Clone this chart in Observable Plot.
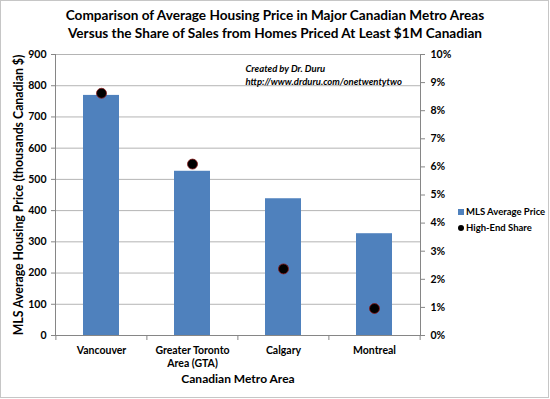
<!DOCTYPE html>
<html>
<head>
<meta charset="utf-8">
<script src="https://cdn.jsdelivr.net/npm/d3@7"></script>
<script src="https://cdn.jsdelivr.net/npm/@observablehq/plot@0.6"></script>
<style>
  html, body { margin: 0; padding: 0; background: #fff; }
  #wrap { position: relative; width: 550px; height: 399px; font-family: Lato, "Open Sans", sans-serif; overflow: hidden; }
  #border { position: absolute; left: 0; top: 0; width: 549px; height: 398px; box-sizing: border-box; border: 1px solid #c6c6c6; pointer-events: none; }
  #title { position: absolute; left: 0; top: 6px; width: 550px; text-align: center; font-weight: bold; font-size: 13.6px; line-height: 18px; color: #000; }
  #chart { position: absolute; left: 0; top: 0; }
  .leg { position: absolute; left: 458px; font-weight: bold; font-size: 9.5px; color: #000; white-space: nowrap; }
  .leg .sw { display: inline-block; width: 6px; height: 6px; background: #4F81BD; margin-right: 2px; vertical-align: 0px; }
  .leg .dt { display: inline-block; width: 6px; height: 6px; background: #000; border-radius: 50%; margin-right: 2px; vertical-align: 0px; }
</style>
</head>
<body>
<div id="wrap">
  <div id="chart"></div>
  <div id="title">Comparison of Average Housing Price in Major Canadian Metro Areas<br>Versus the Share of Sales from Homes Priced At Least $1M Canadian</div>
  <div class="leg" style="top:206px"><span class="sw"></span>MLS Average Price</div>
  <div class="leg" style="top:222px"><span class="dt"></span>High-End Share</div>
  <div id="border"></div>
</div>
<script>
const categories = ["Vancouver", "Greater Toronto Area (GTA)", "Calgary", "Montreal"];
const avgPrice = [769, 526, 438, 326];          // thousands CAD
const highEndShare = [8.62, 6.10, 2.37, 0.96];  // percent
const leftTicks = [0, 100, 200, 300, 400, 500, 600, 700, 800, 900];
const rightTicks = [0, 1, 2, 3, 4, 5, 6, 7, 8, 9, 10];
const xLabels = {"Greater Toronto Area (GTA)": "Greater Toronto\nArea (GTA)"};

const data = categories.map((c, i) => ({city: c, price: avgPrice[i], share: highEndShare[i]}));
const pctToY = p => p * 90; // 10% maps to 900

const W = 550, H = 399, mL = 55, mR = 130, mT = 54, mB = 64;
const plotH = H - mT - mB;
const step = (W - mL - mR) / categories.length;
const axisGray = "#868686";

const chart = Plot.plot({
  width: W, height: H,
  marginLeft: mL, marginRight: mR, marginTop: mT, marginBottom: mB,
  style: {fontFamily: "Lato, 'Open Sans', sans-serif", color: "#000", background: "transparent", overflow: "visible"},
  x: {domain: categories, paddingInner: 0.6, paddingOuter: 0.3, label: null},
  y: {domain: [0, 900], label: null},
  marks: [
    Plot.gridY(leftTicks, {stroke: "#b4b4b4", strokeOpacity: 1}),
    Plot.barY(data, {x: "city", y: "price", fill: "#4F81BD"}),
    Plot.ruleY([0], {stroke: axisGray}),
    Plot.frame({anchor: "left", stroke: axisGray}),
    Plot.frame({anchor: "right", stroke: axisGray}),
    Plot.ruleX(categories, {x: d => d, dx: -step / 2, insetTop: plotH, insetBottom: -5, stroke: axisGray}),
    Plot.ruleX([categories[categories.length - 1]], {x: d => d, dx: step / 2, insetTop: plotH, insetBottom: -5, stroke: axisGray}),
    Plot.axisY({ticks: leftTicks, anchor: "left", tickSize: 4, tickPadding: 5, stroke: axisGray, fill: "#000", fontWeight: "bold", fontSize: 10.5, label: null}),
    Plot.axisY(rightTicks.map(pctToY), {anchor: "right", tickSize: 4, tickPadding: 6, stroke: axisGray, fill: "#000", fontWeight: "bold", fontSize: 10.5, label: null, tickFormat: d => Math.round(d / 90) + "%"}),
    Plot.axisX({tickSize: 0, tickPadding: 9, fill: "#000", fontWeight: "bold", fontSize: 10.5, label: null, lineHeight: 1.25, tickFormat: d => xLabels[d] || d}),
    Plot.dot(data, {x: "city", y: d => pctToY(d.share), r: 5, fill: "#000", stroke: "#8b1a1a", strokeWidth: 0.8}),
    Plot.text(["Canadian Metro Area"], {frameAnchor: "bottom", dy: 47, fontWeight: "bold", fontSize: 12, fill: "#000"}),
    Plot.text(["MLS Average Housing Price (thousands Canadian $)"], {frameAnchor: "left", dx: -36, rotate: -90, textAnchor: "middle", fontWeight: "bold", fontSize: 12.3, fill: "#000"}),
    Plot.text(["Created by Dr. Duru"], {frameAnchor: "top-left", dx: 190, dy: 11, textAnchor: "start", fontStyle: "italic", fontWeight: "bold", fontSize: 9.5, fill: "#000"}),
    Plot.text(["http://www.drduru.com/onetwentytwo"], {frameAnchor: "top-left", dx: 190, dy: 24, textAnchor: "start", fontStyle: "italic", fontWeight: "bold", fontSize: 9.5, fill: "#000"})
  ]
});
document.getElementById("chart").appendChild(chart);
</script>
</body>
</html>
